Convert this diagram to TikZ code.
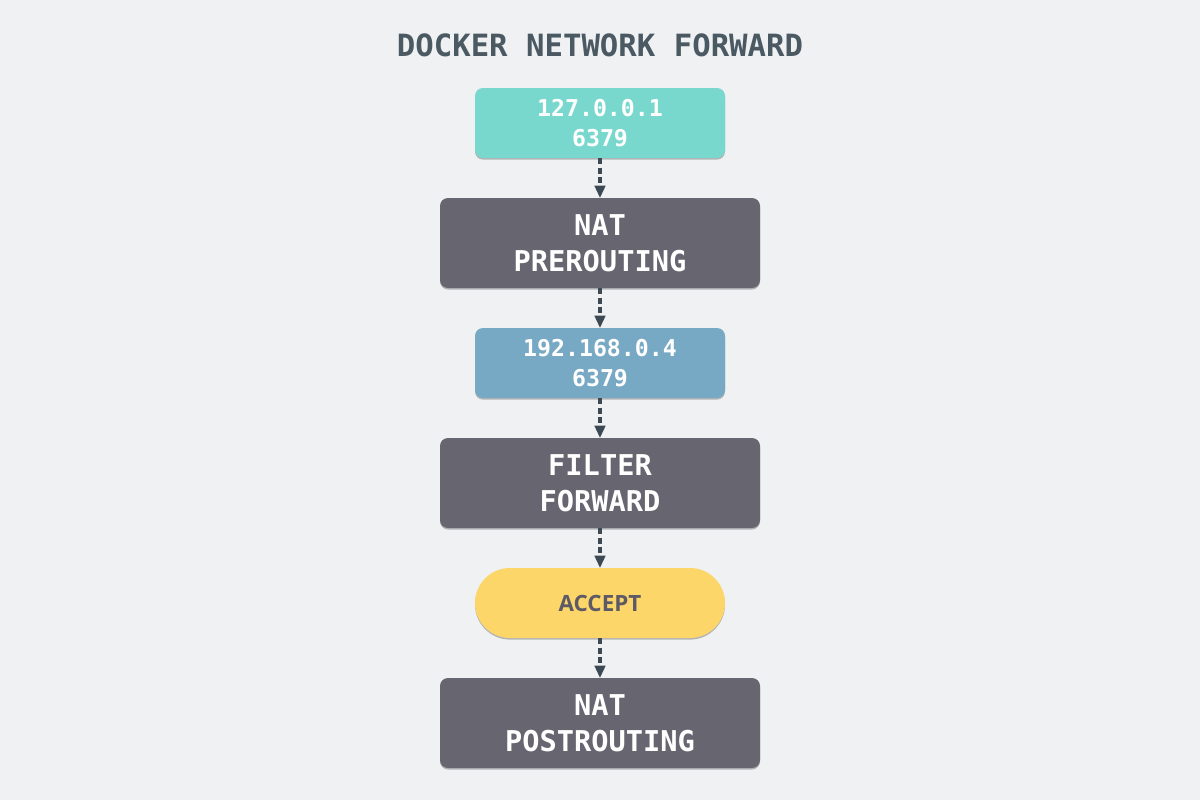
\documentclass[tikz,border=0pt]{standalone}
\usepackage{fontspec}
\setmonofont{DejaVu Sans Mono}
\newfontfamily\accfont{Open Sans}
\usetikzlibrary{shadows,arrows.meta}
\definecolor{bgc}{HTML}{EFF1F3}
\definecolor{tealc}{HTML}{78D8CD}
\definecolor{grayc}{HTML}{67656F}
\definecolor{bluec}{HTML}{77A8C4}
\definecolor{yellowc}{HTML}{FDD66A}
\definecolor{arrowc}{HTML}{3D4A54}
\definecolor{titlec}{HTML}{4B5962}
\definecolor{acctext}{HTML}{5D5A66}
\tikzset{
  sh/.style={drop shadow={shadow xshift=0pt,shadow yshift=-1.2pt,opacity=0.25,fill=black}},
  smallbox/.style={sh,rounded corners=6pt,minimum width=187.5pt,minimum height=52.5pt,inner sep=0pt,
    text=white,font=\ttfamily\bfseries\fontsize{17.4}{23}\selectfont,align=center},
  bigbox/.style={sh,fill=grayc,rounded corners=6pt,minimum width=240pt,minimum height=67.5pt,inner sep=0pt,
    text=white,font=\ttfamily\bfseries\fontsize{21.5}{27}\selectfont,align=center},
  pill/.style={sh,fill=yellowc,rounded corners=26.25pt,minimum width=187.5pt,minimum height=52.5pt,inner sep=0pt,
    text=acctext,font=\accfont\bfseries\fontsize{16.8}{20}\selectfont},
  conn/.style={draw=arrowc,line width=2.8pt,dash pattern=on 4.5pt off 2.5pt,
    -{Triangle[width=8.5pt,length=9pt,line width=0pt,fill=arrowc]}, shorten >=0pt}
}
\begin{document}
\begin{tikzpicture}[x=0.75pt,y=-0.75pt]
\fill[bgc] (0,0) rectangle (1200,800);
\useasboundingbox (0,0) rectangle (1200,800);
\node[text=titlec,font=\ttfamily\bfseries\fontsize{23}{27}\selectfont] (title) at (600,45) {DOCKER NETWORK FORWARD};
\node[smallbox,fill=tealc] (b1) at (600,123) {127.0.0.1\\6379};
\node[bigbox] (b2) at (600,243) {NAT\\PREROUTING};
\node[smallbox,fill=bluec] (b3) at (600,363) {192.168.0.4\\6379};
\node[bigbox] (b4) at (600,483) {FILTER\\FORWARD};
\node[pill] (b5) at (600,603) {ACCEPT};
\node[bigbox] (b6) at (600,723) {NAT\\POSTROUTING};
\draw[conn] (b1.south) -- (b2.north);
\draw[conn] (b2.south) -- (b3.north);
\draw[conn] (b3.south) -- (b4.north);
\draw[conn] (b4.south) -- (b5.north);
\draw[conn] (b5.south) -- (b6.north);
\end{tikzpicture}
\end{document}
